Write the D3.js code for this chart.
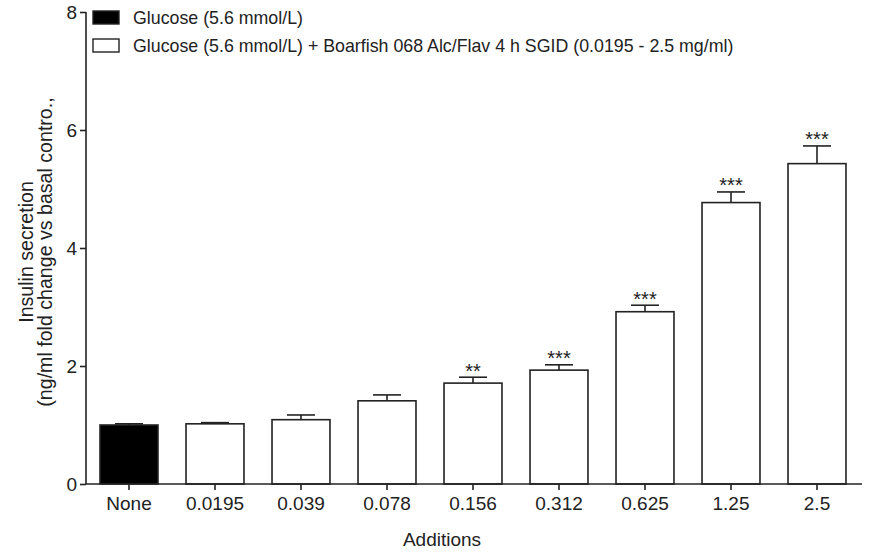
<!DOCTYPE html>
<html>
<head>
<meta charset="utf-8">
<script src="https://cdn.jsdelivr.net/npm/d3@7"></script>
<style>
  html, body { margin: 0; padding: 0; background: #fff; }
  svg { display: block; font-family: "Liberation Sans", Arial, Helvetica, sans-serif; }
</style>
</head>
<body>
<svg id="chart" width="877" height="556"></svg>
<script>
// Insulin secretion (fold change vs basal control) per addition
const categories = ["None", "0.0195", "0.039", "0.078", "0.156", "0.312", "0.625", "1.25", "2.5"];
const means = [1.00, 1.02, 1.09, 1.41, 1.71, 1.93, 2.92, 4.77, 5.43];
const sems = [0.02, 0.02, 0.08, 0.10, 0.10, 0.09, 0.11, 0.18, 0.30];
const significance = ["", "", "", "", "**", "***", "***", "***", "***"];
const yTicks = [0, 2, 4, 6, 8];
const legendLabels = [
  "Glucose (5.6 mmol/L)",
  "Glucose (5.6 mmol/L) + Boarfish 068 Alc/Flav 4 h SGID (0.0195 - 2.5 mg/ml)"
];

const svg = d3.select("#chart");
const ink = "#222";

const x = d3.scaleBand()
  .domain(categories)
  .range([86, 860])
  .paddingInner(0.326)
  .paddingOuter(0.163);

const y = d3.scaleLinear().domain([0, 8]).range([484, 12]);

// Bars
const bars = categories.map((c, i) => ({ c, m: means[i], e: sems[i], s: significance[i], i }));

svg.append("g").selectAll("rect")
  .data(bars)
  .join("rect")
  .attr("x", d => x(d.c))
  .attr("y", d => y(d.m))
  .attr("width", x.bandwidth())
  .attr("height", d => y(0) - y(d.m))
  .attr("fill", d => d.i === 0 ? "#000" : "#fff")
  .attr("stroke", ink)
  .attr("stroke-width", 1.6);

// Error bars (upper only)
const capHalf = 14;
const eb = svg.append("g").attr("stroke", ink).attr("stroke-width", 1.6);
eb.selectAll("line.v")
  .data(bars)
  .join("line")
  .attr("class", "v")
  .attr("x1", d => x(d.c) + x.bandwidth() / 2)
  .attr("x2", d => x(d.c) + x.bandwidth() / 2)
  .attr("y1", d => y(d.m))
  .attr("y2", d => y(d.m + d.e));
eb.selectAll("line.cap")
  .data(bars)
  .join("line")
  .attr("class", "cap")
  .attr("x1", d => x(d.c) + x.bandwidth() / 2 - capHalf)
  .attr("x2", d => x(d.c) + x.bandwidth() / 2 + capHalf)
  .attr("y1", d => y(d.m + d.e))
  .attr("y2", d => y(d.m + d.e));

// Significance stars
svg.append("g").selectAll("text")
  .data(bars.filter(d => d.s))
  .join("text")
  .attr("x", d => x(d.c) + x.bandwidth() / 2)
  .attr("y", d => y(d.m + d.e) + 0.5)
  .attr("text-anchor", "middle")
  .attr("font-size", 20)
  .attr("fill", ink)
  .text(d => d.s);

// Axes
const yAxis = svg.append("g")
  .attr("transform", "translate(86,0)")
  .call(d3.axisLeft(y).tickValues(yTicks).tickSize(6).tickPadding(3).tickFormat(d3.format("d")));
const xAxis = svg.append("g")
  .attr("transform", `translate(0,${y(0)})`)
  .call(d3.axisBottom(x).tickSize(6).tickPadding(7));
xAxis.select(".domain").attr("d", `M86,0H862`);
yAxis.select(".domain").attr("d", `M0,${y(8)}V${y(0)}`);
[xAxis, yAxis].forEach(a => {
  a.selectAll(".domain, .tick line").attr("stroke", ink).attr("stroke-width", 1.6);
  a.selectAll("text").attr("font-size", 19).attr("fill", ink).attr("font-family", null);
});

// Axis titles
svg.append("text")
  .attr("x", 442).attr("y", 546)
  .attr("text-anchor", "middle")
  .attr("font-size", 19)
  .attr("fill", ink)
  .text("Additions");

const yTitle = svg.append("text")
  .attr("transform", "translate(0,252) rotate(-90)")
  .attr("text-anchor", "middle")
  .attr("font-size", 19.6)
  .attr("fill", ink);
yTitle.append("tspan").attr("x", 0).attr("y", 33).text("Insulin secretion");
yTitle.append("tspan").attr("x", 0).attr("y", 52).text("(ng/ml fold change vs basal contro.,");

// Legend
const legend = svg.append("g");
legendLabels.forEach((lab, i) => {
  const ly = 11 + i * 28;
  legend.append("rect")
    .attr("x", 93).attr("y", ly)
    .attr("width", 26).attr("height", 13)
    .attr("fill", i === 0 ? "#000" : "#fff")
    .attr("stroke", ink).attr("stroke-width", 1.4);
  legend.append("text")
    .attr("x", 133).attr("y", ly + 13)
    .attr("font-size", 17.8)
    .attr("fill", ink)
    .text(lab);
});
</script>
</body>
</html>
